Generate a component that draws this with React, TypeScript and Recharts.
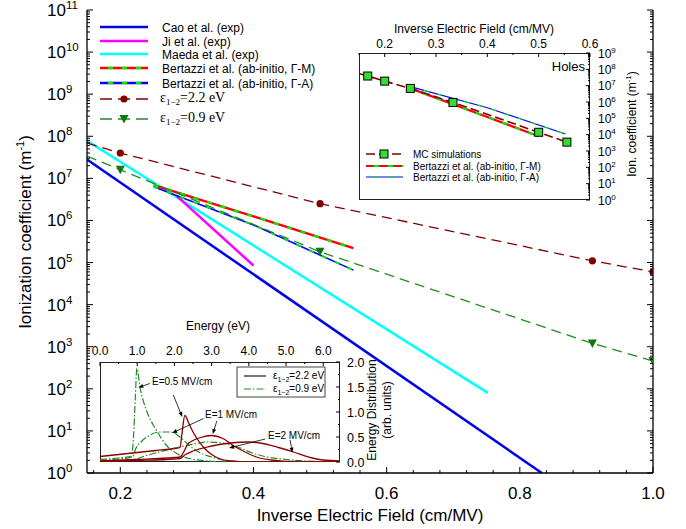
import React from "react";
import { LineChart, Line, XAxis, YAxis, ReferenceLine } from "recharts";

type Pt = { x: number; y: number };

const SANS = '"Liberation Sans", Arial, Helvetica, sans-serif';
const SERIF = '"Liberation Serif", "Times New Roman", serif';

// main plot: ionization coefficient (m^-1) vs inverse field (cm/MV)
const caoExp: Pt[] = [{ x: 0.15, y: 2.8e7 }, { x: 0.833, y: 1 }];
const jiExp: Pt[] = [{ x: 0.285, y: 3.8e6 }, { x: 0.4, y: 8.5e4 }];
const maedaExp: Pt[] = [{ x: 0.15, y: 7.8e7 }, { x: 0.752, y: 80 }];
const bertazziGM: Pt[] = [{ x: 0.25, y: 6.9e6 }, { x: 0.4, y: 1.25e6 }, { x: 0.55, y: 2.2e5 }];
const bertazziGA: Pt[] = [{ x: 0.25, y: 6.3e6 }, { x: 0.4, y: 7.8e5 }, { x: 0.55, y: 6.6e4 }];
const eps22: Pt[] = [
  { x: 0.15, y: 6.9e7 },
  { x: 0.2, y: 4e7 },
  { x: 0.5, y: 2.5e6 },
  { x: 0.909, y: 1.1e5 },
  { x: 1.0, y: 6e4 },
];
const eps09: Pt[] = [
  { x: 0.15, y: 3.4e7 },
  { x: 0.2, y: 1.6e7 },
  { x: 0.5, y: 1.8e5 },
  { x: 0.909, y: 1.2e3 },
  { x: 1.0, y: 4.6e2 },
];
const mainXTicks = [
  0.16, 0.2, 0.24, 0.28, 0.32, 0.36, 0.4, 0.44, 0.48, 0.52, 0.56, 0.6, 0.64, 0.68, 0.72, 0.76, 0.8, 0.84,
  0.88, 0.92, 0.96, 1.0,
];
const mainXLabels = [0.2, 0.4, 0.6, 0.8, 1.0];
const mainDecades = [1, 1e1, 1e2, 1e3, 1e4, 1e5, 1e6, 1e7, 1e8, 1e9, 1e10, 1e11];

// holes inset
const holesMC: Pt[] = [
  { x: 0.15, y: 5.6e7 },
  { x: 0.167, y: 3.9e7 },
  { x: 0.2, y: 1.9e7 },
  { x: 0.25, y: 6.8e6 },
  { x: 0.333, y: 9.4e5 },
  { x: 0.5, y: 1.4e4 },
  { x: 0.555, y: 3.5e3 },
];
const holesGM: Pt[] = [{ x: 0.25, y: 6.8e6 }, { x: 0.4, y: 1.2e5 }, { x: 0.5, y: 8e3 }];
const holesGA: Pt[] = [{ x: 0.25, y: 8.7e6 }, { x: 0.4, y: 4.5e5 }, { x: 0.552, y: 1.1e4 }];
const holesXTicks = [0.15, 0.2, 0.25, 0.3, 0.35, 0.4, 0.45, 0.5, 0.55, 0.6];
const holesXLabels = [0.2, 0.3, 0.4, 0.5, 0.6];
const holesDecades = [1, 1e1, 1e2, 1e3, 1e4, 1e5, 1e6, 1e7, 1e8, 1e9];

// energy distribution inset (energy in eV, arb. units)
const dist05Eps22: Pt[] = [
  { x: 0, y: 0.11 }, { x: 0.5, y: 0.15 }, { x: 1.0, y: 0.19 }, { x: 1.5, y: 0.23 }, { x: 2.0, y: 0.27 },
  { x: 2.15, y: 0.29 }, { x: 2.2, y: 0.55 }, { x: 2.28, y: 0.93 }, { x: 2.4, y: 0.75 }, { x: 2.5, y: 0.6 },
  { x: 2.65, y: 0.42 }, { x: 2.8, y: 0.28 }, { x: 3.0, y: 0.15 }, { x: 3.2, y: 0.07 }, { x: 3.5, y: 0.02 },
  { x: 4.0, y: 0 }, { x: 6.45, y: 0 },
];
const dist1Eps22: Pt[] = [
  { x: 0, y: 0.02 }, { x: 1.0, y: 0.05 }, { x: 2.0, y: 0.09 }, { x: 2.15, y: 0.1 }, { x: 2.25, y: 0.2 },
  { x: 2.35, y: 0.35 }, { x: 2.5, y: 0.43 }, { x: 2.7, y: 0.49 }, { x: 3.0, y: 0.53 }, { x: 3.3, y: 0.47 },
  { x: 3.6, y: 0.32 }, { x: 3.9, y: 0.2 }, { x: 4.2, y: 0.1 }, { x: 4.6, y: 0.04 }, { x: 5.0, y: 0.01 },
  { x: 6.45, y: 0 },
];
const dist2Eps22: Pt[] = [
  { x: 0, y: 0.01 }, { x: 1.0, y: 0.03 }, { x: 2.0, y: 0.06 }, { x: 2.15, y: 0.07 }, { x: 2.3, y: 0.15 },
  { x: 2.5, y: 0.22 }, { x: 3.0, y: 0.32 }, { x: 3.5, y: 0.38 }, { x: 4.0, y: 0.4 }, { x: 4.3, y: 0.38 },
  { x: 4.8, y: 0.29 }, { x: 5.2, y: 0.2 }, { x: 5.7, y: 0.08 }, { x: 6.0, y: 0.04 }, { x: 6.45, y: 0.02 },
];
const dist05Eps09: Pt[] = [
  { x: 0, y: 0.05 }, { x: 0.5, y: 0.08 }, { x: 0.85, y: 0.12 }, { x: 0.9, y: 0.5 }, { x: 0.95, y: 1.3 },
  { x: 0.99, y: 1.87 }, { x: 1.08, y: 1.47 }, { x: 1.25, y: 1.03 }, { x: 1.52, y: 0.63 }, { x: 1.79, y: 0.33 },
  { x: 2.06, y: 0.17 }, { x: 2.4, y: 0.07 }, { x: 2.9, y: 0.02 }, { x: 3.5, y: 0 }, { x: 6.45, y: 0 },
];
const dist1Eps09: Pt[] = [
  { x: 0, y: 0.03 }, { x: 0.5, y: 0.06 }, { x: 0.88, y: 0.1 }, { x: 0.95, y: 0.25 }, { x: 1.1, y: 0.4 },
  { x: 1.3, y: 0.52 }, { x: 1.6, y: 0.6 }, { x: 1.9, y: 0.6 }, { x: 2.15, y: 0.5 }, { x: 2.4, y: 0.33 },
  { x: 2.7, y: 0.18 }, { x: 3.0, y: 0.1 }, { x: 3.3, y: 0.04 }, { x: 3.8, y: 0.01 }, { x: 6.45, y: 0 },
];
const dist2Eps09: Pt[] = [
  { x: 0, y: 0.02 }, { x: 0.9, y: 0.05 }, { x: 1.2, y: 0.12 }, { x: 1.6, y: 0.2 }, { x: 2.0, y: 0.28 },
  { x: 2.4, y: 0.34 }, { x: 2.9, y: 0.4 }, { x: 3.3, y: 0.38 }, { x: 3.7, y: 0.3 }, { x: 4.1, y: 0.18 },
  { x: 4.5, y: 0.1 }, { x: 5.0, y: 0.05 }, { x: 5.5, y: 0.02 }, { x: 6.45, y: 0 },
];
const energyTicks = [0, 0.5, 1, 1.5, 2, 2.5, 3, 3.5, 4, 4.5, 5, 5.5, 6];
const energyLabels = [0, 1, 2, 3, 4, 5, 6];
const distTicks = [0, 0.25, 0.5, 0.75, 1, 1.25, 1.5, 1.75, 2];
const distLabels = [0, 0.5, 1, 1.5, 2];

// annotation arrows in the energy inset: [fromE, fromD, toE, toD]
const energyArrows = [
  [1.34, 1.57, 1.03, 1.49],
  [1.97, 1.34, 2.21, 0.9],
  [2.78, 0.87, 1.94, 0.58],
  [3.14, 0.82, 3.03, 0.56],
  [4.44, 0.46, 3.47, 0.28],
  [5.11, 0.44, 5.17, 0.19],
];

const withMinor = (decades: number[]) =>
  decades.flatMap((d, i) =>
    i === decades.length - 1 ? [d] : [d, ...[2, 3, 4, 5, 6, 7, 8, 9].map((k) => k * d)]
  );
const mainYTicks = withMinor(mainDecades);
const holesYTicks = withMinor(holesDecades);

const near = (list: number[], v: number) => list.some((a) => Math.abs(a - v) < 1e-6);
const decadeOf = (v: number) => Math.round(Math.log10(v));
const isDecade = (v: number) => Math.abs(Math.log10(v) - decadeOf(v)) < 1e-6;

function MainLeftTick({ x, y, payload }: any) {
  const v = payload.value;
  const major = isDecade(v);
  return (
    <g>
      <line x1={x} y1={y} x2={x + (major ? 6 : 3)} y2={y} stroke="#000" strokeWidth={1} />
      {major && (
        <text x={x - 40} y={y + 6} fontSize={17} fontFamily={SANS} fill="#000">
          10
          <tspan dy={-7} fontSize={11.5}>
            {decadeOf(v)}
          </tspan>
        </text>
      )}
    </g>
  );
}

function MainRightTick({ x, y, payload }: any) {
  const major = isDecade(payload.value);
  return <line x1={x} y1={y} x2={x - (major ? 6 : 3)} y2={y} stroke="#000" strokeWidth={1} />;
}

function MainBottomTick({ x, y, payload }: any) {
  const major = near(mainXLabels, payload.value);
  return (
    <g>
      <line x1={x} y1={y} x2={x} y2={y - (major ? 6 : 3)} stroke="#000" strokeWidth={1} />
      {major && (
        <text x={x} y={y + 26} textAnchor="middle" fontSize={17} fontFamily={SANS} fill="#000">
          {payload.value.toFixed(1)}
        </text>
      )}
    </g>
  );
}

function HolesRightTick({ x, y, payload }: any) {
  const v = payload.value;
  const major = isDecade(v);
  return (
    <g>
      <line x1={x} y1={y} x2={x - (major ? 4 : 2)} y2={y} stroke="#000" strokeWidth={1} />
      {major && (
        <text x={x + 8} y={y + 4.5} fontSize={12} fontFamily={SANS} fill="#000">
          10
          <tspan dy={-5} fontSize={8}>
            {decadeOf(v)}
          </tspan>
        </text>
      )}
    </g>
  );
}

function HolesTopTick({ x, y, payload }: any) {
  const major = near(holesXLabels, payload.value);
  return (
    <g>
      <line x1={x} y1={y} x2={x} y2={y + (major ? 4 : 2)} stroke="#000" strokeWidth={1} />
      {major && (
        <text x={x} y={y - 5} textAnchor="middle" fontSize={12} fontFamily={SANS} fill="#000">
          {payload.value.toFixed(1)}
        </text>
      )}
    </g>
  );
}

function EnergyTopTick({ x, y, payload }: any) {
  const major = near(energyLabels, payload.value);
  return (
    <g>
      <line x1={x} y1={y} x2={x} y2={y + (major ? 4 : 2)} stroke="#000" strokeWidth={1} />
      {major && (
        <text x={x} y={y - 7} textAnchor="middle" fontSize={12} fontFamily={SANS} fill="#000">
          {payload.value.toFixed(1)}
        </text>
      )}
    </g>
  );
}

function DistRightTick({ x, y, payload }: any) {
  const major = near(distLabels, payload.value);
  return (
    <g>
      <line x1={x} y1={y} x2={x - (major ? 4 : 2)} y2={y} stroke="#000" strokeWidth={1} />
      {major && (
        <text x={x + 7} y={y + 4.5} fontSize={12.5} fontFamily={SANS} fill="#000">
          {payload.value.toFixed(1)}
        </text>
      )}
    </g>
  );
}

const circleDot = (p: any) =>
  p.index === 0 ? <g key={p.index} /> : <circle key={p.index} cx={p.cx} cy={p.cy} r={3.6} fill="#800000" />;

const triangleDot = (p: any) =>
  p.index === 0 ? (
    <g key={p.index} />
  ) : (
    <polygon
      key={p.index}
      points={`${p.cx - 4.5},${p.cy - 4} ${p.cx + 4.5},${p.cy - 4} ${p.cx},${p.cy + 4.5}`}
      fill="#0a7a0a"
    />
  );

const squareDot = (p: any) =>
  p.index === 0 ? (
    <g key={p.index} />
  ) : (
    <rect key={p.index} x={p.cx - 4} y={p.cy - 4} width={8} height={8} fill="#33dd33" stroke="#000" strokeWidth={1} />
  );

function Arrow(p: any) {
  const { x1, y1, x2, y2 } = p;
  const a = Math.atan2(y2 - y1, x2 - x1);
  const bx = x2 - 5 * Math.cos(a);
  const by = y2 - 5 * Math.sin(a);
  const px = -Math.sin(a) * 2;
  const py = Math.cos(a) * 2;
  return (
    <g>
      <line x1={x1} y1={y1} x2={bx} y2={by} stroke="#000" strokeWidth={0.8} />
      <polygon points={`${x2},${y2} ${bx + px},${by + py} ${bx - px},${by - py}`} fill="#000" />
    </g>
  );
}

const Eps = ({ v, size, sub }: { v: string; size: number; sub: number }) => (
  <>
    ε
    <tspan dy={3} fontSize={sub}>
      1−2
    </tspan>
    <tspan dy={-3} fontSize={size}>
      ={v} eV
    </tspan>
  </>
);

const RED = "#ff0000";
const LIME = "#00ee00";
const DARKRED = "#800000";
const GREEN = "#228b22";

export default function App() {
  const legendRows = [27, 41, 54, 68, 83, 99, 119];
  return (
    <div style={{ position: "absolute", left: 0, top: 0, width: 686, height: 529, background: "#fff" }}>
      <div style={{ position: "absolute", left: 0, top: 0 }}>
        <LineChart width={686} height={529} margin={{ top: 10, right: 30, bottom: 26, left: 27 }}>
          <XAxis
            type="number"
            dataKey="x"
            domain={[0.15, 1]}
            allowDataOverflow
            ticks={mainXTicks}
            interval={0}
            tickSize={0}
            tickMargin={0}
            tickLine={false}
            tick={MainBottomTick}
            axisLine={{ stroke: "#000", strokeWidth: 1.3 }}
            height={30}
          />
          <YAxis
            yAxisId="l"
            type="number"
            scale="log"
            domain={[1, 1e11]}
            allowDataOverflow
            ticks={mainYTicks}
            interval={0}
            tickSize={0}
            tickMargin={0}
            tickLine={false}
            tick={MainLeftTick}
            axisLine={{ stroke: "#000", strokeWidth: 1.3 }}
            width={60}
          />
          <YAxis
            yAxisId="r"
            orientation="right"
            type="number"
            scale="log"
            domain={[1, 1e11]}
            allowDataOverflow
            ticks={mainYTicks}
            interval={0}
            tickSize={0}
            tickMargin={0}
            tickLine={false}
            tick={MainRightTick}
            axisLine={{ stroke: "#000", strokeWidth: 1.3 }}
            width={3}
          />
          <Line yAxisId="l" data={caoExp} dataKey="y" stroke="#0000ee" strokeWidth={2.5} dot={false} activeDot={false} isAnimationActive={false} />
          <Line yAxisId="l" data={maedaExp} dataKey="y" stroke="#00ffff" strokeWidth={2.5} dot={false} activeDot={false} isAnimationActive={false} />
          <Line yAxisId="l" data={jiExp} dataKey="y" stroke="#ff00ff" strokeWidth={2.5} dot={false} activeDot={false} isAnimationActive={false} />
          <Line yAxisId="l" data={bertazziGM} dataKey="y" stroke={RED} strokeWidth={2.5} dot={false} activeDot={false} isAnimationActive={false} />
          <Line yAxisId="l" data={bertazziGM} dataKey="y" stroke={LIME} strokeWidth={2.5} strokeDasharray="5 9" dot={false} activeDot={false} isAnimationActive={false} />
          <Line yAxisId="l" data={bertazziGA} dataKey="y" stroke="#0000ff" strokeWidth={1.6} dot={false} activeDot={false} isAnimationActive={false} />
          <Line yAxisId="l" data={bertazziGA} dataKey="y" stroke={LIME} strokeWidth={1.6} strokeDasharray="5 9" dot={false} activeDot={false} isAnimationActive={false} />
          <Line yAxisId="l" data={eps22} dataKey="y" stroke={DARKRED} strokeWidth={1.3} strokeDasharray="10 6" dot={circleDot} activeDot={false} isAnimationActive={false} />
          <Line yAxisId="l" data={eps09} dataKey="y" stroke={GREEN} strokeWidth={1.3} strokeDasharray="10 6" dot={triangleDot} activeDot={false} isAnimationActive={false} />
        </LineChart>
      </div>

      {/* inset frames */}
      <div style={{ position: "absolute", left: 359, top: 53, width: 231, height: 147, boxSizing: "border-box", border: "1px solid #222", background: "#fff" }} />
      <div style={{ position: "absolute", left: 100, top: 362, width: 240, height: 100, boxSizing: "border-box", border: "1px solid #222", background: "#fff" }} />

      {/* holes inset */}
      <div style={{ position: "absolute", left: 330, top: 0 }}>
        <LineChart width={330} height={215} margin={{ top: 28, right: 30, bottom: 15, left: 29 }}>
          <XAxis
            type="number"
            dataKey="x"
            orientation="top"
            domain={[0.15, 0.6]}
            allowDataOverflow
            ticks={holesXTicks}
            interval={0}
            tickSize={0}
            tickMargin={0}
            tickLine={false}
            tick={HolesTopTick}
            axisLine={false}
            height={25}
          />
          <YAxis
            type="number"
            orientation="right"
            scale="log"
            domain={[1, 1e9]}
            allowDataOverflow
            ticks={holesYTicks}
            interval={0}
            tickSize={0}
            tickMargin={0}
            tickLine={false}
            tick={HolesRightTick}
            axisLine={false}
            width={40}
          />
          <Line data={holesGM} dataKey="y" stroke={RED} strokeWidth={2.2} dot={false} activeDot={false} isAnimationActive={false} />
          <Line data={holesGM} dataKey="y" stroke={LIME} strokeWidth={2.2} strokeDasharray="5 9" dot={false} activeDot={false} isAnimationActive={false} />
          <Line data={holesGA} dataKey="y" stroke="#0000ff" strokeWidth={1.1} dot={false} activeDot={false} isAnimationActive={false} />
          <Line data={holesGA} dataKey="y" stroke={LIME} strokeWidth={1.1} strokeDasharray="5 9" dot={false} activeDot={false} isAnimationActive={false} />
          <Line data={holesMC} dataKey="y" stroke={DARKRED} strokeWidth={1.6} strokeDasharray="9 4" dot={squareDot} activeDot={false} isAnimationActive={false} />
        </LineChart>
      </div>

      {/* energy distribution inset */}
      <div style={{ position: "absolute", left: 80, top: 320 }}>
        <LineChart width={330} height={160} margin={{ top: 17, right: 30, bottom: 18, left: 20 }}>
          <XAxis
            type="number"
            dataKey="x"
            orientation="top"
            domain={[0, 6.45]}
            allowDataOverflow
            ticks={energyTicks}
            interval={0}
            tickSize={0}
            tickMargin={0}
            tickLine={false}
            tick={EnergyTopTick}
            axisLine={false}
            height={25}
          />
          <YAxis
            type="number"
            orientation="right"
            domain={[0, 2]}
            allowDataOverflow
            ticks={distTicks}
            interval={0}
            tickSize={0}
            tickMargin={0}
            tickLine={false}
            tick={DistRightTick}
            axisLine={false}
            width={40}
          />
          {[dist05Eps09, dist1Eps09, dist2Eps09].map((d, i) => (
            <Line key={"g" + i} data={d} dataKey="y" type="monotone" stroke={GREEN} strokeWidth={1.2} strokeDasharray="7 2 1.5 2" dot={false} activeDot={false} isAnimationActive={false} />
          ))}
          {[dist05Eps22, dist1Eps22, dist2Eps22].map((d, i) => (
            <Line key={"r" + i} data={d} dataKey="y" type="monotone" stroke="#8b0000" strokeWidth={1.3} dot={false} activeDot={false} isAnimationActive={false} />
          ))}
          {energyArrows.map((a, i) => (
            <ReferenceLine
              key={"a" + i}
              segment={[
                { x: a[0], y: a[1] },
                { x: a[2], y: a[3] },
              ]}
              ifOverflow="visible"
              shape={Arrow}
            />
          ))}
        </LineChart>
      </div>

      {/* texts and legends */}
      <svg width={686} height={529} style={{ position: "absolute", left: 0, top: 0, pointerEvents: "none" }}>
        <text x={370} y={521} textAnchor="middle" fontSize={17} fontFamily={SANS} fill="#000">
          Inverse Electric Field (cm/MV)
        </text>
        <text transform="translate(31,232) rotate(-90)" textAnchor="middle" fontSize={17} fontFamily={SANS} fill="#000">
          Ionization coefficient (m
          <tspan dy={-7} fontSize={11}>
            -1
          </tspan>
          <tspan dy={7}>)</tspan>
        </text>

        {/* main legend */}
        <line x1={100} y1={legendRows[0]} x2={148} y2={legendRows[0]} stroke="#0000ee" strokeWidth={2.5} />
        <line x1={100} y1={legendRows[1]} x2={148} y2={legendRows[1]} stroke="#ff00ff" strokeWidth={2.5} />
        <line x1={100} y1={legendRows[2]} x2={148} y2={legendRows[2]} stroke="#00ffff" strokeWidth={2.5} />
        <line x1={100} y1={legendRows[3]} x2={148} y2={legendRows[3]} stroke={RED} strokeWidth={2.5} />
        <line x1={100} y1={legendRows[3]} x2={148} y2={legendRows[3]} stroke={LIME} strokeWidth={2.5} strokeDasharray="5 9" strokeDashoffset={-8} />
        <line x1={100} y1={legendRows[4]} x2={148} y2={legendRows[4]} stroke="#0000ff" strokeWidth={2.5} />
        <line x1={100} y1={legendRows[4]} x2={148} y2={legendRows[4]} stroke={LIME} strokeWidth={2.5} strokeDasharray="5 9" strokeDashoffset={-8} />
        <line x1={100} y1={legendRows[5]} x2={148} y2={legendRows[5]} stroke={DARKRED} strokeWidth={1.3} strokeDasharray="12 6" />
        <circle cx={124} cy={legendRows[5]} r={3.6} fill="#800000" />
        <line x1={100} y1={legendRows[6]} x2={148} y2={legendRows[6]} stroke={GREEN} strokeWidth={1.3} strokeDasharray="12 6" />
        <polygon points={`119.5,${legendRows[6] - 4} 128.5,${legendRows[6] - 4} 124,${legendRows[6] + 4.5}`} fill="#0a7a0a" />
        <g fontSize={12} fontFamily={SANS} fill="#000">
          <text x={162} y={legendRows[0] + 4.5}>Cao et al. (exp)</text>
          <text x={162} y={legendRows[1] + 4.5}>Ji et al. (exp)</text>
          <text x={162} y={legendRows[2] + 4.5}>Maeda et al. (exp)</text>
          <text x={162} y={legendRows[3] + 4.5}>Bertazzi et al. (ab-initio, Γ-M)</text>
          <text x={162} y={legendRows[4] + 4.5}>Bertazzi et al. (ab-initio, Γ-A)</text>
        </g>
        <g fontSize={14} fontFamily={SERIF} fill="#000">
          <text x={160} y={legendRows[5] + 3}>
            <Eps v="2.2" size={14} sub={9} />
          </text>
          <text x={160} y={legendRows[6] + 3}>
            <Eps v="0.9" size={14} sub={9} />
          </text>
        </g>

        {/* holes inset texts */}
        <text x={474} y={33} textAnchor="middle" fontSize={12} fontFamily={SANS} fill="#000">
          Inverse Electric Field (cm/MV)
        </text>
        <text x={585} y={71} textAnchor="end" fontSize={13} fontFamily={SANS} fill="#000">
          Holes
        </text>
        <text transform="translate(636,124) rotate(-90)" textAnchor="middle" fontSize={12} fontFamily={SANS} fill="#000">
          Ion. coefficient (m
          <tspan dy={-5} fontSize={8}>
            -1
          </tspan>
          <tspan dy={5}>)</tspan>
        </text>
        <line x1={366} y1={154} x2={403} y2={154} stroke={DARKRED} strokeWidth={1.6} strokeDasharray="9 4" />
        <rect x={380} y={150} width={8} height={8} fill="#33dd33" stroke="#000" strokeWidth={1} />
        <line x1={366} y1={166} x2={403} y2={166} stroke={RED} strokeWidth={2.2} />
        <line x1={366} y1={166} x2={403} y2={166} stroke={LIME} strokeWidth={2.2} strokeDasharray="5 9" strokeDashoffset={-8} />
        <line x1={366} y1={177} x2={403} y2={177} stroke="#0000ff" strokeWidth={1.1} />
        <line x1={366} y1={177} x2={403} y2={177} stroke={LIME} strokeWidth={1.1} strokeDasharray="5 9" strokeDashoffset={-8} />
        <g fontSize={10} fontFamily={SANS} fill="#000">
          <text x={413} y={157.5}>MC simulations</text>
          <text x={413} y={169.5}>Bertazzi et al. (ab-initio, Γ-M)</text>
          <text x={413} y={180.5}>Bertazzi et al. (ab-initio, Γ-A)</text>
        </g>

        {/* energy inset texts */}
        <text x={218} y={330} textAnchor="middle" fontSize={12} fontFamily={SANS} fill="#000">
          Energy (eV)
        </text>
        <text transform="translate(376,410) rotate(-90)" textAnchor="middle" fontSize={12} fontFamily={SANS} fill="#000">
          Energy Distribution
        </text>
        <text transform="translate(391,410) rotate(-90)" textAnchor="middle" fontSize={12} fontFamily={SANS} fill="#000">
          (arb. units)
        </text>
        <rect x={237} y={367} width={88} height={30} fill="#fff" stroke="#444" strokeWidth={1} />
        <line x1={244} y1={376} x2={266} y2={376} stroke="#777" strokeWidth={2} />
        <line x1={244} y1={389} x2={266} y2={389} stroke={GREEN} strokeWidth={1.2} strokeDasharray="7 2 1.5 2" />
        <g fontSize={10} fontFamily={SANS} fill="#000">
          <text x={273} y={379}>
            <Eps v="2.2" size={10} sub={7} />
          </text>
          <text x={273} y={392}>
            <Eps v="0.9" size={10} sub={7} />
          </text>
          <text x={152} y={385}>E=0.5 MV/cm</text>
          <text x={205} y={418}>E=1 MV/cm</text>
          <text x={268} y={439}>E=2 MV/cm</text>
        </g>
      </svg>
    </div>
  );
}
